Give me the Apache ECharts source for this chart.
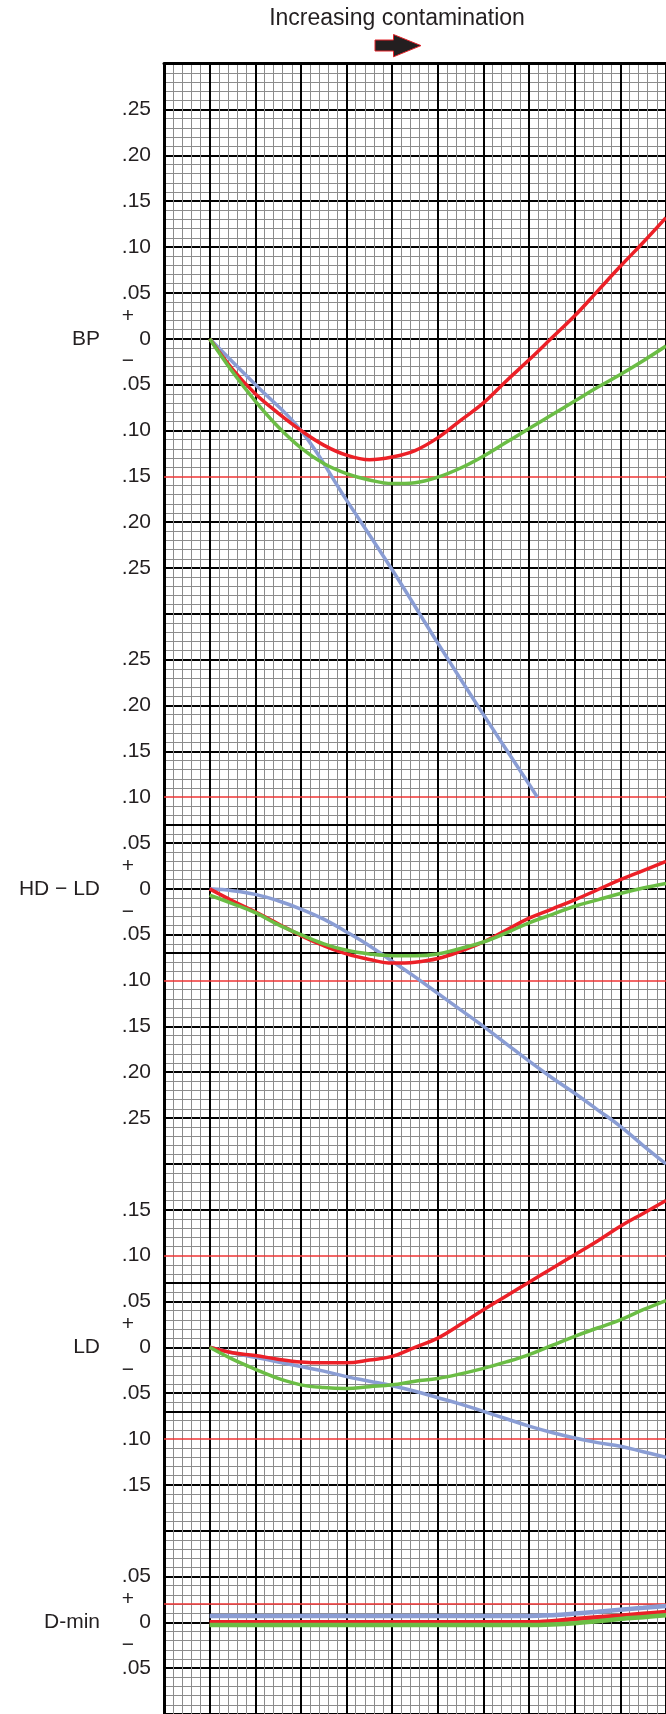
<!DOCTYPE html>
<html>
<head>
<meta charset="utf-8">
<script src="https://cdn.jsdelivr.net/npm/echarts@6.0.0/dist/echarts.min.js"></script>
<style>
  html, body { margin: 0; padding: 0; background: #fff; }
  #main { width: 666px; height: 1714px; }
</style>
</head>
<body>
<div id="main"></div>
<script>
// x positions in major grid columns (half steps), curves start on column 1
var xs = [1, 1.5, 2, 2.5, 3, 3.5, 4, 4.5, 5, 5.5, 6, 6.5, 7, 7.5, 8, 8.5, 9, 9.5, 10, 10.5, 11];

// BP panel
var bpRed   = [0, -0.033, -0.060, -0.081, -0.100, -0.116, -0.127, -0.132, -0.129, -0.122, -0.108,
               -0.089, -0.070, -0.046, -0.023, 0.001, 0.025, 0.052, 0.079, 0.105, 0.132];
var bpGreen = [0, -0.036, -0.068, -0.096, -0.119, -0.136, -0.147, -0.154, -0.158, -0.157, -0.151,
               -0.141, -0.128, -0.113, -0.098, -0.083, -0.068, -0.053, -0.039, -0.024, -0.008];
var bpBlueX = [1, 2, 3, 4, 5, 6, 7, 8, 8.18];
var bpBlue  = [0, -0.050, -0.100, -0.176, -0.252, -0.332, -0.410, -0.486, -0.500];

// HD - LD panel
var hdRed   = [0, -0.013, -0.025, -0.038, -0.051, -0.062, -0.071, -0.077, -0.081, -0.080, -0.076,
               -0.068, -0.058, -0.045, -0.032, -0.022, -0.012, -0.001, 0.010, 0.020, 0.030];
var hdGreen = [-0.007, -0.016, -0.026, -0.039, -0.050, -0.060, -0.067, -0.071, -0.073, -0.073, -0.071,
               -0.065, -0.058, -0.048, -0.037, -0.028, -0.019, -0.012, -0.005, 0.001, 0.006];
var hdBlue  = [0, -0.002, -0.006, -0.013, -0.022, -0.033, -0.047, -0.062, -0.079, -0.096, -0.114,
               -0.132, -0.150, -0.169, -0.188, -0.206, -0.223, -0.241, -0.259, -0.280, -0.300];

// LD panel
var ldRed   = [0, -0.006, -0.009, -0.013, -0.016, -0.017, -0.017, -0.014, -0.010, 0.000, 0.010,
               0.025, 0.041, 0.056, 0.071, 0.086, 0.101, 0.116, 0.132, 0.146, 0.160];
var ldGreen = [0, -0.013, -0.024, -0.034, -0.041, -0.044, -0.045, -0.043, -0.041, -0.037, -0.034,
               -0.029, -0.023, -0.016, -0.008, 0.002, 0.012, 0.021, 0.030, 0.041, 0.051];
var ldBlue  = [0, -0.006, -0.011, -0.016, -0.021, -0.026, -0.032, -0.037, -0.042, -0.048, -0.055,
               -0.062, -0.070, -0.078, -0.086, -0.093, -0.099, -0.104, -0.108, -0.114, -0.120];

// D-min panel
var dmRed   = [0, 0, 0, 0, 0, 0, 0, 0, 0, 0, 0, 0, 0, 0, 0,
               0.0012, 0.0036, 0.0055, 0.0073, 0.0093, 0.0112];
var dmGreen = [-0.003, -0.003, -0.003, -0.003, -0.003, -0.003, -0.003, -0.003, -0.003, -0.003, -0.003,
               -0.003, -0.003, -0.003, -0.003, -0.0024, -0.001, 0.0012, 0.0036, 0.0056, 0.0076];
var dmBlue  = [0.007, 0.007, 0.007, 0.007, 0.007, 0.007, 0.007, 0.007, 0.007, 0.007, 0.007,
               0.007, 0.007, 0.007, 0.007, 0.0078, 0.0095, 0.0116, 0.0138, 0.0158, 0.0178];

var panelNames   = ['BP', 'HD \u2212 LD', 'LD', 'D-min'];
var panelOffsets = [0, -0.60, -1.10, -1.40];
var labelTops    = [0.25, 0.25, 0.15, 0.05];
var limitLines   = [[-0.15], [0.10, -0.10], [0.10, -0.10], [0.02]];
var blackLines   = [[], [0.07, -0.07], [0.07, -0.07], []];

var yMin = -1.50, yMax = 0.30, yStep = 0.05;

var RED = '#ec2027', GREEN = '#6bbd45', BLUE = '#8a9dd4', LIMIT = '#ef3434', INK = '#231f20';
var FONT = '"Liberation Sans", Arial, Helvetica, sans-serif';

function pairs(xv, yv, off) {
    return xv.map(function (x, i) { return [x, +(yv[i] + off).toFixed(4)]; });
}

function tickText(v) {
    for (var i = 0; i < panelOffsets.length; i++) {
        var local = v - panelOffsets[i];
        if (local <= labelTops[i] + 1e-6 && local >= -labelTops[i] - 1e-6) {
            var r = Math.round(Math.abs(local) * 100) / 100;
            return r === 0 ? '0' : r.toFixed(2).slice(1);
        }
    }
    return '';
}

// major lines under a red limit are left out so the red one stays clean
var allLimits = [];
limitLines.forEach(function (arr, i) {
    arr.forEach(function (v) { allLimits.push(v + panelOffsets[i]); });
});
var splitColors = [];
var nTicks = Math.round((yMax - yMin) / yStep);
for (var k = 0; k <= nTicks; k++) {
    var t = yMin + k * yStep;
    var hit = allLimits.some(function (l) { return Math.abs(l - t) < 1e-6; });
    splitColors.push(hit ? 'rgba(0,0,0,0)' : '#000');
}

var curves = [
    { p: 0, x: bpBlueX, y: bpBlue, c: BLUE }, { p: 0, x: xs, y: bpRed, c: RED }, { p: 0, x: xs, y: bpGreen, c: GREEN },
    { p: 1, x: xs, y: hdBlue, c: BLUE }, { p: 1, x: xs, y: hdRed, c: RED }, { p: 1, x: xs, y: hdGreen, c: GREEN },
    { p: 2, x: xs, y: ldBlue, c: BLUE }, { p: 2, x: xs, y: ldRed, c: RED }, { p: 2, x: xs, y: ldGreen, c: GREEN },
    { p: 3, x: xs, y: dmBlue, c: BLUE }, { p: 3, x: xs, y: dmRed, c: RED }, { p: 3, x: xs, y: dmGreen, c: GREEN }
];

var series = [];
var seen = {};
curves.forEach(function (cv) {
    var off = panelOffsets[cv.p];
    var s = {
        type: 'line',
        data: pairs(cv.x, cv.y, off),
        smooth: 0.4,
        showSymbol: false,
        silent: true,
        lineStyle: { color: cv.c, width: cv.p === 3 ? 4.5 : 3.5 },
        z: 3
    };
    if (!seen[cv.p]) {
        seen[cv.p] = true;
        var md = [];
        limitLines[cv.p].forEach(function (v) {
            md.push({ yAxis: +(v + off).toFixed(4), lineStyle: { color: LIMIT, width: 1.6, type: 'solid' } });
        });
        blackLines[cv.p].forEach(function (v) {
            md.push({ yAxis: +(v + off).toFixed(4), lineStyle: { color: '#000', width: 2, type: 'solid' } });
        });
        if (md.length) {
            s.markLine = { silent: true, symbol: ['none', 'none'], label: { show: false }, data: md, z: 2 };
        }
    }
    series.push(s);
});

var chart = echarts.init(document.getElementById('main'));
var option = {
    animation: false,
    backgroundColor: '#fff',
    grid: { left: 164, top: 63.7, width: 508.1, height: 1654.2, containLabel: false },
    xAxis: {
        type: 'value', min: 0, max: 11, interval: 1, position: 'top',
        axisLine: { show: true, onZero: false, lineStyle: { color: '#000', width: 3 } },
        axisTick: { show: false },
        axisLabel: { show: false },
        splitLine: { show: true, lineStyle: { color: '#000', width: 2 } },
        minorTick: { show: false, splitNumber: 5 },
        minorSplitLine: { show: true, lineStyle: { color: '#8c8c8c', width: 1 } }
    },
    yAxis: {
        type: 'value', min: yMin, max: yMax, interval: yStep,
        axisLine: { show: true, onZero: false, lineStyle: { color: '#000', width: 3 } },
        axisTick: { show: false },
        axisLabel: {
            show: true, margin: 13, color: INK, fontSize: 21, fontFamily: FONT,
            formatter: tickText
        },
        splitLine: { show: true, lineStyle: { color: splitColors, width: 2 } },
        minorTick: { show: false, splitNumber: 5 },
        minorSplitLine: { show: true, lineStyle: { color: '#8c8c8c', width: 1 } }
    },
    series: series
};
chart.setOption(option);

var g = [
    {
        type: 'text',
        style: { text: 'Increasing contamination', x: 397, y: 19, textAlign: 'center', textVerticalAlign: 'middle',
                 font: '23px ' + FONT, fill: INK }
    },
    {
        type: 'polygon',
        shape: { points: [[375, 40], [393.5, 40], [393.5, 34.5], [421, 45.6], [393.5, 56.8], [393.5, 51], [375, 51]] },
        style: { fill: INK, stroke: '#e3242b', lineWidth: 1 }
    }
];
panelOffsets.forEach(function (off, i) {
    var y0 = chart.convertToPixel({ yAxisIndex: 0 }, off);
    var half = (chart.convertToPixel({ yAxisIndex: 0 }, off - yStep) - y0) / 2;
    g.push({ type: 'text', style: { text: panelNames[i], x: 100, y: y0, textAlign: 'right', textVerticalAlign: 'middle', font: '21px ' + FONT, fill: INK } });
    g.push({ type: 'text', style: { text: '+', x: 128, y: y0 - half, textAlign: 'center', textVerticalAlign: 'middle', font: '21px ' + FONT, fill: INK } });
    g.push({ type: 'text', style: { text: '\u2212', x: 128, y: y0 + half, textAlign: 'center', textVerticalAlign: 'middle', font: '21px ' + FONT, fill: INK } });
});
chart.setOption({ graphic: g });
</script>
</body>
</html>
